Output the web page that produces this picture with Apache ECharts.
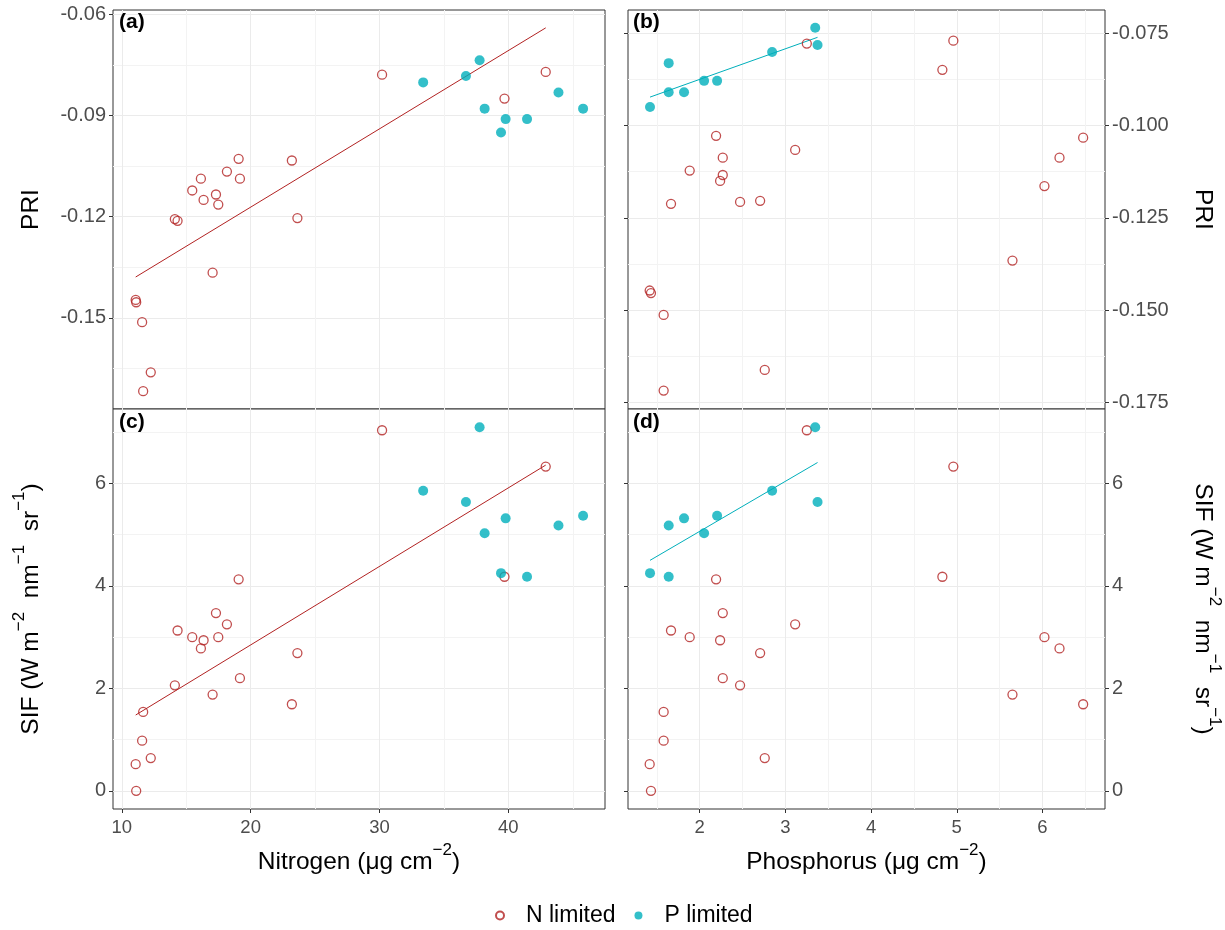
<!DOCTYPE html>
<html><head><meta charset="utf-8">
<script src="https://cdn.jsdelivr.net/npm/echarts@6/dist/echarts.min.js"></script>
<style>html,body{margin:0;padding:0;background:#fff}#chart{width:1225px;height:930px}</style>
</head><body><div id="chart"></div>
<script>
// ---- N limited samples ----
const nLimNitrogen  = [30.2, 42.9, 39.7, 19.07, 23.2, 18.16, 16.14, 19.17, 15.47, 17.31, 16.35, 17.49, 14.12, 14.33, 23.63, 17.05, 11.08, 11.12, 11.58, 12.25, 11.66];
const nLimPhosphorus= [3.25, 4.96, 4.832, 2.191, 6.475, 3.114, 6.199, 2.269, 1.883, 2.269, 2.238, 6.023, 2.471, 1.665, 2.705, 5.65, 1.416, 1.431, 1.579, 2.759, 1.579];
const nLimPRI       = [-0.0778, -0.0770, -0.0849, -0.1028, -0.1033, -0.1066, -0.1087, -0.1087, -0.1122, -0.1134, -0.1150, -0.1164, -0.1207, -0.1212, -0.1204, -0.1366, -0.1447, -0.1454, -0.1513, -0.1662, -0.1718];
const nLimSIF       = [7.04, 6.33, 4.18, 4.13, 1.69, 3.25, 2.78, 2.20, 3.00, 3.47, 2.94, 3.00, 2.06, 3.13, 2.69, 1.88, 0.52, 0.00, 0.98, 0.64, 1.54];
// ---- P limited samples ----
const pLimNitrogen  = [37.77, 36.71, 33.39, 43.89, 38.16, 45.80, 39.79, 41.45, 39.43];
const pLimPhosphorus= [3.348, 3.375, 2.845, 1.638, 2.051, 2.203, 1.817, 1.638, 1.420];
const pLimPRI       = [-0.0735, -0.0782, -0.0801, -0.0831, -0.0879, -0.0879, -0.0910, -0.0910, -0.0950];
const pLimSIF       = [7.10, 5.64, 5.86, 5.18, 5.03, 5.37, 5.32, 4.18, 4.25];
// ---- fitted lines (end points) ----
const fitNitrogenX  = [11.08, 42.9];
const fitNitrogenPRI= [-0.1379, -0.0639];
const fitNitrogenSIF= [1.48, 6.36];
const fitPhosX      = [1.42, 3.375];
const fitPhosPRI    = [-0.0923, -0.0761];
const fitPhosSIF    = [4.50, 6.41];
// ---- ticks ----
const nitrogenTicks = [10, 20, 30, 40];
const nitrogenMinor = [15, 25, 35, 45];
const phosTicks     = [2, 3, 4, 5, 6];
const phosMinor     = [1.5, 2.5, 3.5, 4.5, 5.5, 6.5];
const priTicksA     = [-0.15, -0.12, -0.09, -0.06];
const priMinorA     = [-0.165, -0.135, -0.105, -0.075];
const priTicksB     = [-0.175, -0.15, -0.125, -0.1, -0.075];
const priMinorB     = [-0.1625, -0.1375, -0.1125, -0.0875];
const sifTicks      = [0, 2, 4, 6];
const sifMinor      = [1, 3, 5, 7];
const legendLabels  = ['N limited', 'P limited'];

const FONT = '"Liberation Sans", Arial, sans-serif';
const RED = '#B22222', TEAL = '#00AFBB';
const pairs = (xs, ys) => xs.map((x, i) => [x, ys[i]]);

const ranges = {
  N: [9.32, 47.5], P: [1.163, 6.73], PRIa: [-0.1771, -0.0586], PRIb: [-0.1768, -0.0687], SIF: [-0.355, 7.455]
};
const grids = [
  {left: 113, top: 10, width: 492, height: 399},
  {left: 628, top: 10, width: 477, height: 399},
  {left: 113, top: 409, width: 492, height: 400},
  {left: 628, top: 409, width: 477, height: 400}
].map(g => Object.assign(g, {show: true, borderColor: '#333333', borderWidth: 1, backgroundColor: '#fff', containLabel: false, outerBoundsMode: 'none'}));

const tickLine = {color: '#333333', width: 1};
const supRich = {sup: {fontSize: 17, lineHeight: 14, verticalAlign: 'top', fontFamily: FONT, color: '#000'}};

function mainAxis(gridIndex, range, ticks, opts) {
  return Object.assign({
    type: 'value', gridIndex, min: range[0], max: range[1],
    axisLine: {show: false, onZero: false},
    axisTick: {show: !!opts.labels, length: 4, customValues: ticks, lineStyle: tickLine},
    axisLabel: {show: !!opts.labels, customValues: ticks, margin: opts.margin || 7, formatter: opts.fmt,
      color: '#4D4D4D', fontSize: opts.fs || 18, fontFamily: FONT},
    splitLine: {show: true, lineStyle: {color: '#EBEBEB', width: 1}},
    nameLocation: 'middle',
    nameTextStyle: {fontSize: 24.5, color: '#000', fontFamily: FONT, lineHeight: 40, rich: supRich}
  }, opts.extra || {});
}
function minorAxis(gridIndex, range, ticks, position) {
  return {type: 'value', gridIndex, min: range[0], max: range[1], position,
    axisLine: {show: false, onZero: false}, axisTick: {show: false, customValues: ticks},
    axisLabel: {show: false}, splitLine: {show: true, lineStyle: {color: '#F3F3F3', width: 1}}};
}
function tickOnlyAxis(gridIndex, range, ticks, position) {
  return {type: 'value', gridIndex, min: range[0], max: range[1], position,
    axisLine: {show: false, onZero: false}, axisTick: {show: true, length: 4, customValues: ticks, lineStyle: tickLine},
    axisLabel: {show: false}, splitLine: {show: false}};
}
const f2 = v => v.toFixed(2), f3 = v => v.toFixed(3), f0 = v => String(Math.round(v));
const sifName = 'SIF (W m{sup|−2}  nm{sup|−1}  sr{sup|−1})';

const xAxis = [
  mainAxis(0, ranges.N, nitrogenTicks, {labels: false, extra: {position: 'bottom'}}),
  mainAxis(1, ranges.P, phosTicks, {labels: false, extra: {position: 'bottom'}}),
  mainAxis(2, ranges.N, nitrogenTicks, {labels: true, fmt: f0, margin: 9, fs: 18.5, extra: {position: 'bottom', name: 'Nitrogen (μg cm{sup|−2})', nameGap: 33}}),
  mainAxis(3, ranges.P, phosTicks, {labels: true, fmt: f0, margin: 9, fs: 18.5, extra: {position: 'bottom', name: 'Phosphorus (μg cm{sup|−2})', nameGap: 33}}),
  minorAxis(0, ranges.N, nitrogenMinor, 'top'),
  minorAxis(1, ranges.P, phosMinor, 'top'),
  minorAxis(2, ranges.N, nitrogenMinor, 'top'),
  minorAxis(3, ranges.P, phosMinor, 'top')
];
const yAxis = [
  mainAxis(0, ranges.PRIa, priTicksA, {labels: true, fmt: f2, fs: 20, extra: {position: 'left', name: 'PRI', nameGap: 62, nameRotate: 90}}),
  mainAxis(1, ranges.PRIb, priTicksB, {labels: true, fmt: f3, fs: 20, extra: {position: 'right', name: 'PRI', nameGap: 78, nameRotate: -90}}),
  mainAxis(2, ranges.SIF, sifTicks, {labels: true, fmt: f0, fs: 20, extra: {position: 'left', name: sifName, nameGap: 62, nameRotate: 90}}),
  mainAxis(3, ranges.SIF, sifTicks, {labels: true, fmt: f0, fs: 20, extra: {position: 'right', name: sifName, nameGap: 78, nameRotate: -90}}),
  minorAxis(0, ranges.PRIa, priMinorA, 'right'),
  minorAxis(1, ranges.PRIb, priMinorB, 'left'),
  minorAxis(2, ranges.SIF, sifMinor, 'right'),
  minorAxis(3, ranges.SIF, sifMinor, 'left'),
  tickOnlyAxis(1, ranges.PRIb, priTicksB, 'left'),
  tickOnlyAxis(3, ranges.SIF, sifTicks, 'left')
];

const nStyle = {color: 'rgba(0,0,0,0)', borderColor: RED, borderWidth: 1.3};
const pStyle = {color: TEAL};
function scatter(name, idx, xs, ys, style, size) {
  return {type: 'scatter', name, xAxisIndex: idx, yAxisIndex: idx, data: pairs(xs, ys),
    symbol: 'circle', symbolSize: size, itemStyle: style, silent: true, z: 3};
}
function fitLine(idx, xs, ys, color) {
  return {type: 'line', name: 'fit', xAxisIndex: idx, yAxisIndex: idx, data: pairs(xs, ys),
    showSymbol: false, symbol: 'none', lineStyle: {color, width: 1}, silent: true, z: 2};
}
const series = [
  fitLine(0, fitNitrogenX, fitNitrogenPRI, RED),
  fitLine(1, fitPhosX, fitPhosPRI, TEAL),
  fitLine(2, fitNitrogenX, fitNitrogenSIF, RED),
  fitLine(3, fitPhosX, fitPhosSIF, TEAL),
  scatter(legendLabels[0], 0, nLimNitrogen, nLimPRI, nStyle, 9),
  scatter(legendLabels[1], 0, pLimNitrogen, pLimPRI, pStyle, 10),
  scatter(legendLabels[0], 1, nLimPhosphorus, nLimPRI, nStyle, 9),
  scatter(legendLabels[1], 1, pLimPhosphorus, pLimPRI, pStyle, 10),
  scatter(legendLabels[0], 2, nLimNitrogen, nLimSIF, nStyle, 9),
  scatter(legendLabels[1], 2, pLimNitrogen, pLimSIF, pStyle, 10),
  scatter(legendLabels[0], 3, nLimPhosphorus, nLimSIF, nStyle, 9),
  scatter(legendLabels[1], 3, pLimPhosphorus, pLimSIF, pStyle, 10)
];

const panelTitle = (text, left, top) => ({text, left, top, padding: 0,
  textStyle: {fontSize: 21, fontWeight: 'bold', color: '#000', fontFamily: FONT}});

const option = {
  animation: false,
  backgroundColor: '#fff',
  title: [panelTitle('(a)', 119, 12), panelTitle('(b)', 633, 12), panelTitle('(c)', 119, 412), panelTitle('(d)', 633, 412)],
  legend: {data: legendLabels, left: 495, top: 904, padding: 0, icon: 'circle', itemWidth: 8, itemHeight: 8, itemGap: 19,
    textStyle: {fontSize: 23, color: '#000', fontFamily: FONT, padding: [0, 0, 0, 17]}, selectedMode: false},
  grid: grids, xAxis, yAxis, series
};
const chart = echarts.init(document.getElementById('chart'), null, {renderer: 'canvas'});
chart.setOption(option);
</script></body></html>
